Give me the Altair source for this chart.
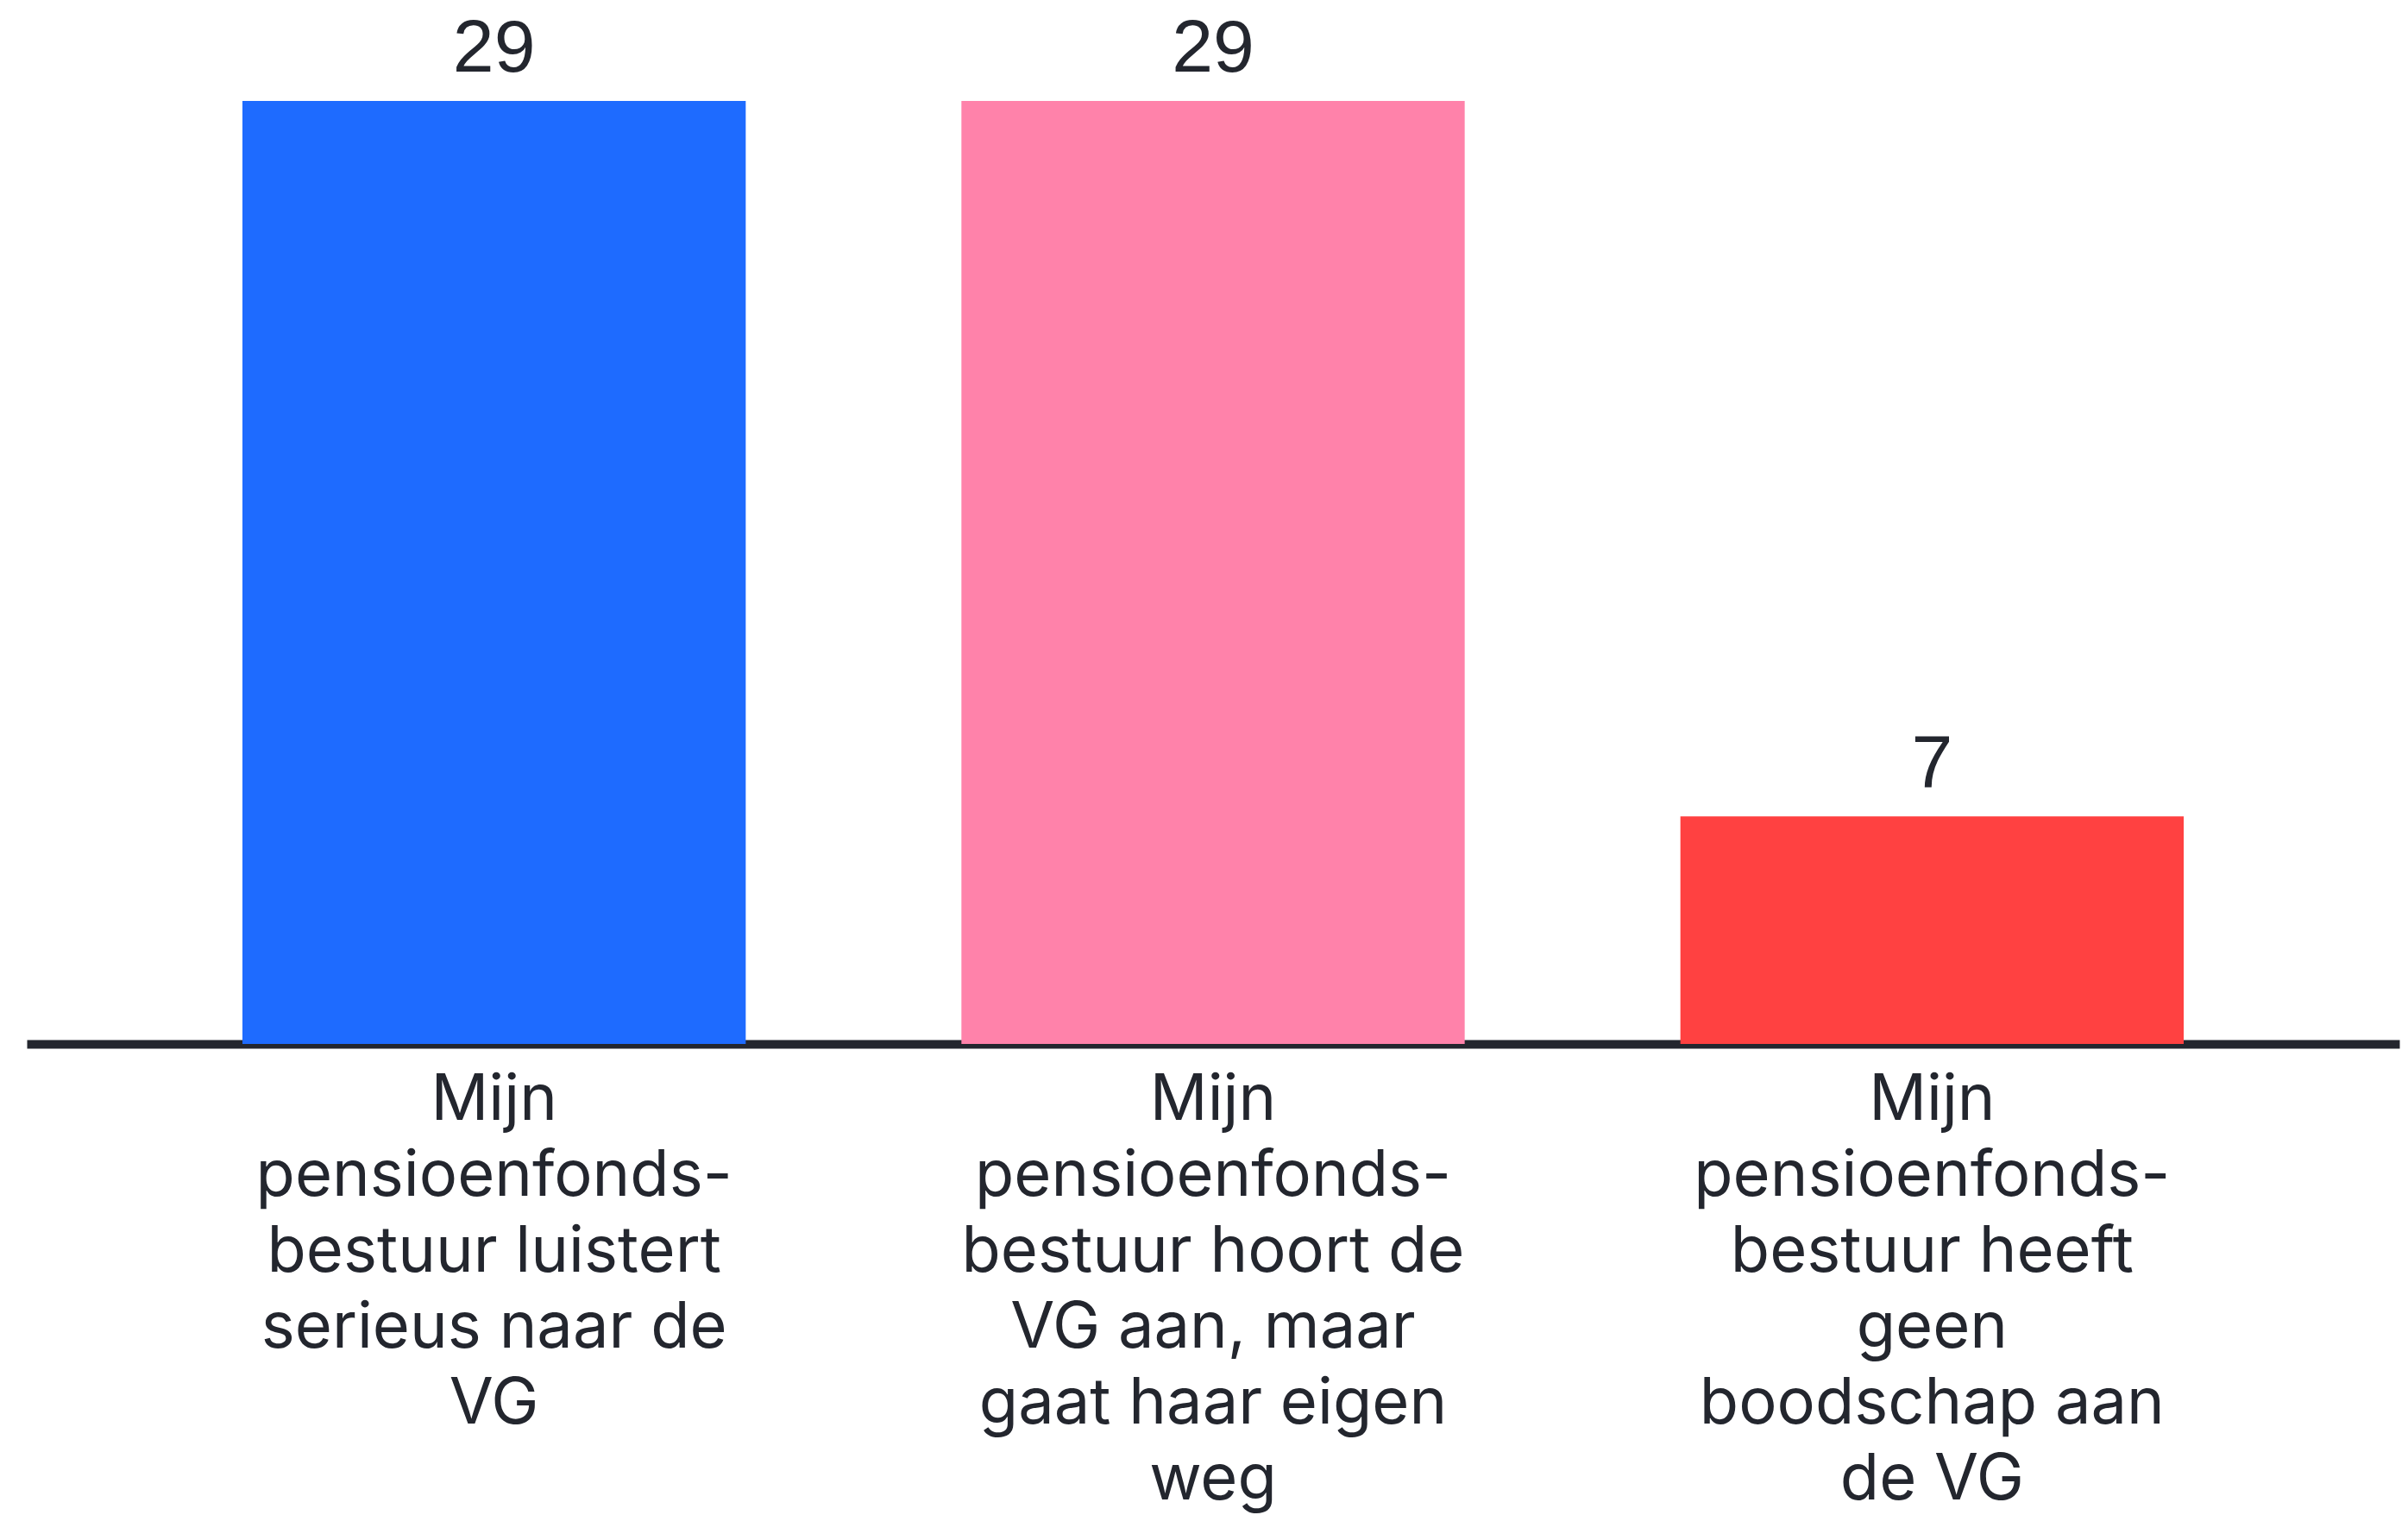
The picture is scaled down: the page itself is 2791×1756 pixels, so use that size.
import altair as alt
import pandas as pd

categories = [
    "Mijn|pensioenfonds-|bestuur luistert|serieus naar de|VG",
    "Mijn|pensioenfonds-|bestuur hoort de|VG aan, maar|gaat haar eigen|weg",
    "Mijn|pensioenfonds-|bestuur heeft|geen|boodschap aan|de VG",
]
values = [29, 29, 7]
colors = ["#1E6BFF", "#FF82AA", "#FF4141"]

df = pd.DataFrame({"cat": categories, "val": values, "col": colors})

x = alt.X(
    "cat:N",
    sort=None,
    title=None,
    scale=alt.Scale(paddingInner=0.3, paddingOuter=0.3),
    axis=alt.Axis(
        labelAngle=0,
        labelExpr="split(datum.label, '|')",
        labelFont="Inter",
        labelFontSize=74,
        labelLineHeight=88,
        labelColor="#23262e",
        labelBaseline="top",
        labelPadding=29,
        labelLimit=0,
        labelOverlap=False,
        ticks=False,
        domainWidth=10,
        domainColor="#23262e",
        grid=False,
    ),
)
y = alt.Y("val:Q", scale=alt.Scale(domain=[0, 29], nice=False), axis=None)

bars = alt.Chart(df).mark_bar().encode(x=x, y=y, color=alt.Color("col:N", scale=None))
text = alt.Chart(df).mark_text(
    baseline="alphabetic", dy=-34, fontSize=86, font="Liberation Sans", color="#23262e"
).encode(x=x, y=y, text="val:Q")

chart = (
    alt.layer(bars, text)
    .properties(
        width=2750,
        height=1093,
        autosize=alt.AutoSizeParams(type="none"),
        padding={"left": 23, "top": 109, "right": 2, "bottom": 600},
        view=alt.ViewBackground(stroke="transparent", strokeWidth=0, fill="white"),
    )
    .configure_view(stroke="transparent", strokeWidth=0)
    .configure(background="white")
)

chart.save("out.html", embed_options={"renderer": "svg", "actions": False})
